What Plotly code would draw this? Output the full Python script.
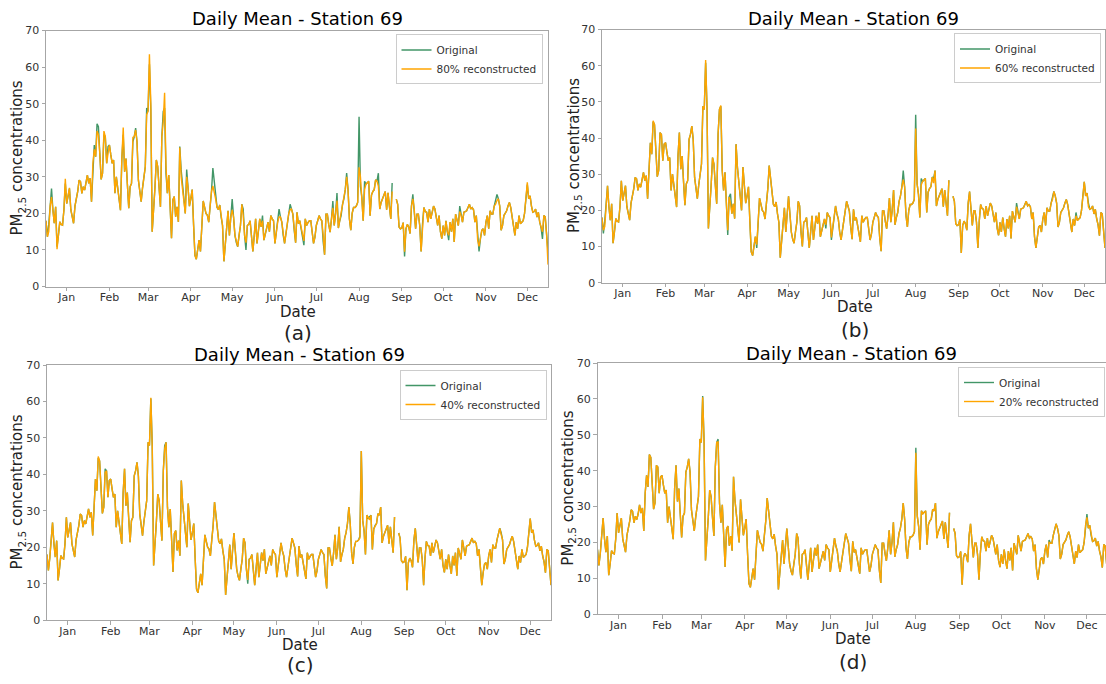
import pandas as pd
import plotly.graph_objects as go

# ---------------- data ----------------
start_date = "2017-12-17"
n_days = 365

# daily mean PM2.5 at station 69 (None = missing days)
original = [
    18, 13.6, 17, 22, 26.8, 21, 17.3, 21.8, 10.9, 14,
    17.7, 17, 16.8, 21, 28.2, 22.7, 25, 26.8, 21, 19.5,
    17.3, 22, 23.7, 26, 29.1, 28.7, 25.5, 27.3, 26.4, 28,
    30.5, 28.2, 29.6, 23.2, 33.7, 38.7, 35.5, 44.5, 43.7, 36.4,
    29.3, 31, 41.5, 41, 33.7, 38.3, 38.7, 36, 33.7, 34.6,
    25.5, 30, 27, 23, 20.9, 35, 41.5, 31.4, 35, 28,
    21.4, 27.3, 28.2, 39.6, 41, 43.3, 39.6, 29.1, 26, 23.2,
    27, 30, 32.8, 48.8, 47.9, 60.8, 48.3, 15, 20, 27,
    34.6, 32.8, 27, 21.8, 41, 47.9, 48.8, 31, 25.5, 30.5,
    22, 13.2, 23.7, 24.6, 19.1, 21.8, 17.7, 38.3, 31.9, 27,
    24, 20, 32, 27, 22, 24, 26.5, 17, 8.5, 7.5,
    11, 12.7, 9.6, 17, 23.4, 21.7, 20, 19.5, 17.6, 22,
    26, 32.4, 28.3, 24, 21.7, 21, 22.3, 19, 16.7, 6.9,
    12, 17, 20.7, 14, 19, 23.9, 19, 14, 12, 10.9,
    14, 16.7, 22.5, 21.2, 14, 10, 16.7, 17, 18, 14,
    9.6, 14, 18.5, 11.8, 15, 18.5, 16.3, 19.4, 12.7, 14.5,
    16.3, 17.6, 15, 19.4, 18.5, 18, 11.8, 15, 17.6, 21.2,
    19, 17.6, 14, 11.8, 14.5, 17.6, 20, 22.5, 21.2, 19.8,
    15.3, 12, 20.3, 17.2, 18, 16, 14, 11.3, 18.5, 16.7,
    17.5, 18, 18, 14, 11.8, 13.5, 16.7, 18, 19.4, 18.5,
    18, 12.2, 8.7, 19.8, 19.8, 17, 14.9, 18.5, 23.4, 16.7,
    20, 25.6, 16, 18, 19.4, 22.5, 24, 26.5, 31, 26.5,
    18.5, 15.4, 20, 21.6, 21.6, 22, 23, 46.4, 27.4, 24.5,
    18, 28.8, 28, 28.4, 28.8, 19.4, 25, 26, 26.5, 29.2,
    28.8, 31, 21.2, 23, 24, 25, 26, 21, 25.6, 22,
    18.5, 28.3, None, None, 23.9, 22.5, 16.3, 15.8, 16, 17.5,
    8.2, 15.8, 17, 16.3, 14.5, 22, 25.2, 21.2, 15.8, 19.8,
    19.8, 16.7, 9.6, 17, 21.6, 20.5, 20.3, 17.6, 21.2, 18.5,
    20, 22, 21.2, 18.5, 16.7, 19.4, 15, 13.1, 16.7, 14,
    18, 15, 12.7, 17.6, 15, 18.5, 12.2, 19.8, 18, 16.7,
    22, 19.4, 17.6, 20.3, 20.5, 20.7, 21.6, 22.5, 21.2, 21.6,
    21, 17.6, 19.4, 12.7, 9.6, 13, 15.4, 15.8, 14, 17.6,
    19.4, 15.8, 20.7, 19.8, 19.8, 22, 23.9, 25.2, 24, 22,
    15.4, 16.7, 19.4, 20, 20.7, 22, 23, 21.6, 19, 17.6,
    14, 17.6, 15.8, 19.4, 17.2, 17.6, 18, 20, 24.8, 27.9,
    24, 24.8, 22, 20.3, 20.5, 21.2, 19, 20.3, 17.6, 16,
    13, 19.4, 19, 14, 9.6,
]

# reconstructed series: days (index) where the reconstruction departs from the original
rec80_values = {2: 15, 4: 24.5, 8: 10.2, 14: 29.5, 17: 27, 35: 37.5, 37: 42.5, 38: 41.5,
                42: 42.5, 45: 36.5, 56: 43.5, 63: 40.8, 65: 42.8, 73: 47, 75: 63.5, 76: 50,
                85: 45, 86: 53, 87: 33, 97: 38, 98: 30, 102: 30, 121: 27.5, 122: 26,
                135: 21, 143: 19.5, 145: 12, 157: 18, 169: 19, 177: 21, 187: 12.5, 201: 14,
                208: 21.5, 211: 23.5, 218: 30, 227: 32.6, 228: 30, 231: 26.5, 241: 27.5,
                251: 26, 260: 9.5, 266: 24, 292: 14, 300: 20.5, 314: 11, 326: 22.5,
                327: 23.5, 349: 28.5, 360: 15, 364: 6}
rec60_values = {1: 14.5, 2: 15.5, 37: 44.8, 75: 61.6, 86: 49, 91: 14.5, 93: 22, 112: 10.5,
                162: 16, 166: 12.5, 218: 28.5, 227: 42.6, 231: 27, 240: 27.5, 300: 21,
                326: 23, 343: 18.5, 352: 21}
rec40_values = {37: 44.9, 42: 40.5, 75: 61, 76: 47.5, 85: 47, 131: 16, 145: 11, 226: 22.5,
                233: 27.5, 328: 23.5}
rec20_values = {75: 60.5, 86: 48, 227: 45, 322: 20, 349: 27}

panel_pcts = ["80%", "60%", "40%", "20%"]
panel_letters = ["(a)", "(b)", "(c)", "(d)"]
month_labels = ["Jan", "Feb", "Mar", "Apr", "May", "Jun",
                "Jul", "Aug", "Sep", "Oct", "Nov", "Dec"]
month_starts = pd.date_range("2018-01-01", periods=12, freq="MS")

# ---------------- build ----------------
dates = pd.date_range(start_date, periods=n_days, freq="D")


def reconstructed(overrides):
    vals = list(original)
    for k, v in overrides.items():
        vals[k] = v
    return vals


recs = [reconstructed(rec80_values), reconstructed(rec60_values),
        reconstructed(rec40_values), reconstructed(rec20_values)]

W, H = 1106, 684
GREEN = "#2e8b57"
ORANGE = "#ffa500"
FONT = "DejaVu Sans"

# plot-area boxes in pixels: left, right, top, bottom
boxes = [(46, 548, 25, 286), (602, 1105, 24, 282),
         (47, 551, 366, 626), (597.5, 1106, 364, 620)]
x_end_days = [364, 364, 364, 362.6]
title_y = [13, 13, 355, 354]
date_y = [312, 307, 651, 645]
letter_y = [333, 330, 672, 669]
ylabel_x = [18, 574, 18, 569]
legend_pos = [(542.5, 29), (1101, 28), (546.5, 371), (1105, 368)]


def px_x(x):
    return x / W


def px_y(y):
    return 1 - y / H


fig = go.Figure()
layout = dict(width=W, height=H, margin=dict(l=0, r=0, t=0, b=0), autosize=False,
              paper_bgcolor="white", plot_bgcolor="white", showlegend=True,
              font=dict(family=FONT, color="#333333"))
annotations = []

for i in range(4):
    sfx = "" if i == 0 else str(i + 1)
    l, r, t, b = boxes[i]
    leg = "legend" if i == 0 else f"legend{i + 1}"
    fig.add_trace(go.Scatter(x=dates, y=original, mode="lines", name="Original",
                             line=dict(color=GREEN, width=1.4), opacity=0.9,
                             xaxis="x" + sfx, yaxis="y" + sfx, legend=leg,
                             connectgaps=False))
    fig.add_trace(go.Scatter(x=dates, y=recs[i], mode="lines",
                             name=f"{panel_pcts[i]} reconstructed",
                             line=dict(color=ORANGE, width=1.4), opacity=1.0,
                             xaxis="x" + sfx, yaxis="y" + sfx, legend=leg,
                             connectgaps=False))
    x_range = [dates[0], dates[0] + pd.Timedelta(days=x_end_days[i])]
    layout["xaxis" + sfx] = dict(
        domain=[px_x(l), min(px_x(r), 1.0)], anchor="y" + sfx, range=x_range,
        type="date", tickvals=month_starts, ticktext=month_labels,
        showgrid=False, zeroline=False, showline=True, linecolor="#a6a6a6",
        linewidth=1, mirror=True, ticks="outside", ticklen=3.5, tickcolor="#a6a6a6",
        ticklabelstandoff=-3,
        tickfont=dict(family=FONT, size=11, color="#333333"), fixedrange=True)
    layout["yaxis" + sfx] = dict(
        domain=[px_y(b), px_y(t)], anchor="x" + sfx, range=[0, 70], dtick=10,
        tick0=0, showgrid=False, zeroline=False, showline=True, linecolor="#a6a6a6",
        linewidth=1, mirror=(i != 3), ticks="outside", ticklen=3.5,
        tickcolor="#a6a6a6", tickfont=dict(family=FONT, size=11, color="#333333"),
        fixedrange=True)
    lx, ly = legend_pos[i]
    layout[leg] = dict(x=px_x(lx), y=px_y(ly), xanchor="right", yanchor="top",
                       bgcolor="white", bordercolor="#cccccc", borderwidth=1,
                       font=dict(family=FONT, size=10.5, color="#333333"),
                       itemwidth=30, tracegroupgap=0)
    cx = (l + min(r, 1106)) / 2
    annotations.append(dict(text="Daily Mean - Station 69", x=px_x(cx), y=px_y(title_y[i]),
                            xref="paper", yref="paper", showarrow=False,
                            xanchor="center", yanchor="middle",
                            font=dict(family=FONT, size=18, color="black")))
    annotations.append(dict(text="Date", x=px_x(cx + 1), y=px_y(date_y[i]),
                            xref="paper", yref="paper", showarrow=False,
                            xanchor="center", yanchor="middle",
                            font=dict(family=FONT, size=15, color="#222222")))
    annotations.append(dict(text=panel_letters[i], x=px_x(cx + 1), y=px_y(letter_y[i]),
                            xref="paper", yref="paper", showarrow=False,
                            xanchor="center", yanchor="middle",
                            font=dict(family=FONT, size=20, color="#222222")))
    annotations.append(dict(text="PM<sub>2.5</sub> concentrations", x=px_x(ylabel_x[i]),
                            y=px_y((t + b) / 2), xref="paper", yref="paper",
                            showarrow=False, textangle=-90, xanchor="center",
                            yanchor="middle",
                            font=dict(family=FONT, size=15, color="#222222")))

layout["annotations"] = annotations
fig.update_layout(**layout)
fig.write_html("out.html", config={"displayModeBar": False})
